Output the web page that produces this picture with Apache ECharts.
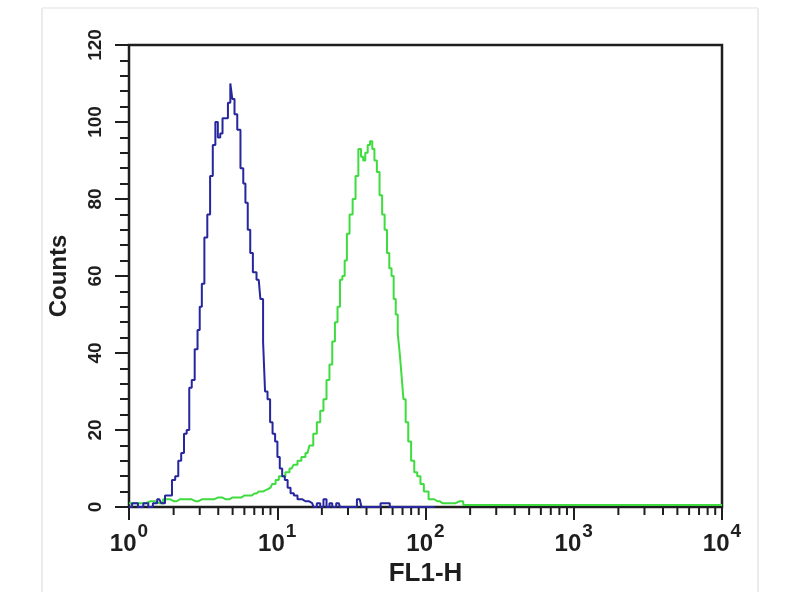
<!DOCTYPE html>
<html>
<head>
<meta charset="utf-8">
<script src="https://cdn.jsdelivr.net/npm/echarts@6/dist/echarts.min.js"></script>
<style>html,body{margin:0;padding:0;background:#fff}#c{width:800px;height:600px}</style>
</head>
<body>
<div id="c"></div>
<script>
// Channel (FL1-H) values and counts
const blueChannel = [1,1.1,1.2,1.3,1.4,1.5,1.6,1.7,1.8,1.9,2.0,2.1,2.2,2.3,2.4,2.5,2.6,2.7,2.85,2.95,3.05,3.15,3.3,3.45,3.6,3.75,3.9,4.05,4.2,4.35,4.55,4.75,4.9,5.05,5.25,5.5,5.8,6.0,6.2,6.45,6.7,7.0,7.5,7.9,8.15,8.4,8.8,9.1,9.5,9.85,10.2,10.6,11.0,11.5,12,12.6,13.3,14.1,15.5,17.2,18,19,20,21,22,23,24,26,27,30,33,36,38,45,55,60,80,100,115];
const blueCounts  = [0,1,0,1,0,1,2,1,3,3,7,8,12,14,19,20,31,33,41,46,52,58,70,76,86,94,100,96,97,101,101,105,110,106,102,98,88,84,79,72,66,61,59,54,43,30,28,22,19,17,13,10,8,7,5,3.6,3,2,1.5,1,0,1,0,2,0,1,0,1,0,0,0,2,0,0,1,0,0,0,0];
const greenChannel = [1,1.2,1.4,1.6,1.8,2.0,2.2,2.5,2.8,3.1,3.5,4.0,4.5,5,5.5,6,6.5,7,7.5,8,8.5,9,9.5,10,10.5,11,11.7,12.5,13.3,14.1,15,16,17,18,19,20,21,22,23,24,25,26,27,28,29,30,31.5,33,34.5,36,37.5,38.5,40,41.5,43,44.5,46,48,50,52,54,56,58,60,62,64,66,68,70,72,75,78,82,86,90,95,100,110,120,130,150,170,190,220,400,1000,3000,10000];
const greenCounts  = [1,1,1.5,1,2,1.5,2,2,1.5,2,2,2.5,2,2.5,2.5,3,3,3.5,4,4,4.5,5,6,7,8,8,9,10,11,12,13,14,16,19,22,25,28,33,37,43,48,52,59,60,64,71,76,80,86,93,91,90,92,94,95,93,90,87,81,76,72,66,62,60,54,50,45,40,34,28,22,17,12,9,8,6,4,2,1.5,1,1,1.5,0.5,0.5,0.5,0.5,0.5,0.5];
const yTicks = [0,20,40,60,80,100,120];
const xMinorTicks = [];
[1,10,100,1000].forEach(d => { for (let k = 2; k <= 9; k++) xMinorTicks.push(k * d); });

const zip = (a, b) => a.map((v, i) => [v, b[i]]);
const FONT = 'Liberation Sans';
const INK = '#1e1e1e';

const chart = echarts.init(document.getElementById('c'), null, {renderer: 'canvas'});
chart.setOption({
  backgroundColor: '#ffffff',
  animation: false,
  graphic: [
    {type: 'line', shape: {x1: 42, y1: 8, x2: 42, y2: 592}, style: {stroke: '#ebebeb', lineWidth: 2}, silent: true},
    {type: 'line', shape: {x1: 758, y1: 8, x2: 758, y2: 592}, style: {stroke: '#ebebeb', lineWidth: 2}, silent: true},
    {type: 'line', shape: {x1: 42, y1: 8, x2: 758, y2: 8}, style: {stroke: '#f0f0f0', lineWidth: 2}, silent: true}
  ],
  grid: {left: 129, right: 78, top: 45, bottom: 93, show: true, borderColor: INK, borderWidth: 2.5, backgroundColor: 'transparent'},
  xAxis: {
    type: 'log', logBase: 10, min: 1, max: 10000,
    name: 'FL1-H', nameLocation: 'middle', nameGap: 53,
    nameTextStyle: {fontFamily: FONT, fontSize: 26, fontWeight: 'bold', color: INK},
    axisLine: {show: true, lineStyle: {color: INK, width: 2}},
    axisTick: {show: true, length: 13, lineStyle: {color: INK, width: 2}},
    splitLine: {show: false},
    axisLabel: {
      margin: 15,
      formatter: v => '{b|10}{s|' + Math.round(Math.log10(v)) + '}',
      rich: {
        b: {fontFamily: FONT, fontSize: 24, fontWeight: 'bold', color: INK, verticalAlign: 'bottom', lineHeight: 34},
        s: {fontFamily: FONT, fontSize: 19, fontWeight: 'bold', color: INK, verticalAlign: 'top', lineHeight: 34, padding: [0,0,14,1]}
      }
    }
  },
  yAxis: {
    type: 'value', min: 0, max: 120, interval: 20,
    name: 'Counts', nameLocation: 'middle', nameGap: 58,
    nameTextStyle: {fontFamily: FONT, fontSize: 24, fontWeight: 'bold', color: INK},
    axisLine: {show: true, lineStyle: {color: INK, width: 2}},
    axisTick: {show: true, length: 14, lineStyle: {color: INK, width: 2}},
    minorTick: {show: true, splitNumber: 5, length: 9, lineStyle: {color: INK, width: 2}},
    splitLine: {show: false},
    axisLabel: {fontFamily: FONT, fontSize: 19, fontWeight: 'bold', color: INK, margin: 24, rotate: 90,
      formatter: v => yTicks.includes(v) ? String(v) : ''}
  },
  series: [
    {
      type: 'line', name: 'green', step: 'middle', showSymbol: false,
      data: zip(greenChannel, greenCounts),
      lineStyle: {color: '#3fdc3f', width: 2}, z: 3
    },
    {
      type: 'line', name: 'blue', step: 'middle', showSymbol: false,
      data: zip(blueChannel, blueCounts),
      lineStyle: {color: '#26269e', width: 2}, z: 4
    },
    {
      type: 'custom', name: 'minorTicks', clip: false, silent: true,
      data: xMinorTicks.map(v => [v, 0]),
      encode: {x: 0, y: 1},
      renderItem: (params, api) => {
        const p = api.coord([api.value(0), 0]);
        return {type: 'line', shape: {x1: p[0], y1: p[1] + 1, x2: p[0], y2: p[1] + 8},
          style: {stroke: INK, lineWidth: 2}};
      }, z: 2
    }
  ]
});
</script>
</body>
</html>
